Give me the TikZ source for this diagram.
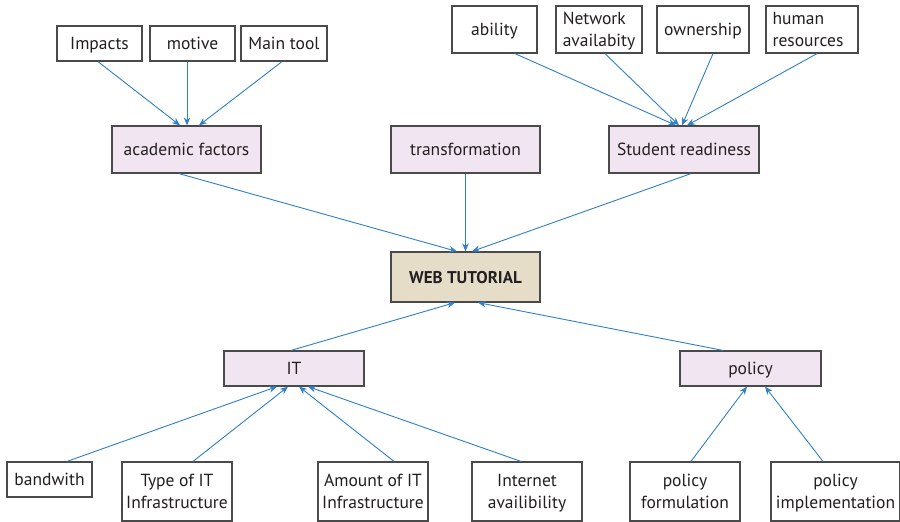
\documentclass[tikz,border=0pt]{standalone}
\usepackage{fontspec}
\setmainfont{PT Sans}
\usetikzlibrary{arrows.meta}
\definecolor{arrowblue}{HTML}{2F80C8}
\definecolor{pinkfill}{HTML}{F1E5F1}
\definecolor{beigefill}{HTML}{E6DDC8}
\definecolor{boxline}{HTML}{4A4A4A}
\definecolor{txt}{HTML}{231F20}
\tikzset{
  box/.style={draw=boxline, line width=1.2pt, fill=white, text=txt, font=\fontsize{17.5}{22}\selectfont, inner sep=0pt, align=center, text depth=0pt},
  midbox/.style={box, fill=pinkfill},
  webbox/.style={box, fill=beigefill, font=\fontsize{17}{22}\selectfont\bfseries},
  arr/.style={draw=arrowblue, line width=0.9pt, -{Stealth[length=8pt,width=6.5pt]}}
}
\begin{document}
\begin{tikzpicture}[x=1pt,y=-1pt]
\useasboundingbox[fill=white] (0,0) rectangle (900,522);
% top row left
\node[box, minimum width=85pt, minimum height=35pt] (imp) at (99.5,43.5) {Impacts};
\node[box, minimum width=85pt, minimum height=35pt] (mot) at (192.5,43.5) {motive};
\node[box, minimum width=86pt, minimum height=35pt] (mt) at (284,43.5) {Main tool};
% top row right
\node[box, minimum width=85pt, minimum height=47pt] (ab) at (494.5,29.5) {ability};
\node[box, minimum width=86pt, minimum height=47pt, align=left] (na) at (599,29.5) {Network\\availabity};
\node[box, minimum width=92pt, minimum height=47pt] (ow) at (703,29.5) {ownership};
\node[box, minimum width=92pt, minimum height=47pt, align=left] (hr) at (812,29.5) {human\\resources\hspace*{8pt}};
% middle row
\node[midbox, minimum width=149pt, minimum height=47pt] (af) at (186.5,149.5) {academic factors};
\node[midbox, minimum width=149pt, minimum height=47pt] (tr) at (465.5,149.5) {transformation};
\node[midbox, minimum width=150pt, minimum height=47pt] (sr) at (684,149.5) {Student readiness};
% center
\node[webbox, minimum width=149pt, minimum height=50pt] (web) at (465.5,277) {WEB TUTORIAL};
% lower middle
\node[midbox, minimum width=140pt, minimum height=35pt] (it) at (294,368.5) {IT};
\node[midbox, minimum width=141pt, minimum height=35pt] (pol) at (750.5,368.5) {policy};
% bottom row
\node[box, minimum width=85pt, minimum height=35pt] (bw) at (49.5,479.5) {bandwith};
\node[box, minimum width=110pt, minimum height=59pt] (ty) at (177,491.5) {Type of IT\\Infrastructure};
\node[box, minimum width=110pt, minimum height=59pt] (am) at (373,491.5) {Amount of IT\\Infrastructure};
\node[box, minimum width=110pt, minimum height=59pt] (in) at (527,491.5) {Internet\\availibility};
\node[box, minimum width=110pt, minimum height=59pt] (pf) at (685,491.5) {policy\\formulation};
\node[box, minimum width=129pt, minimum height=59pt] (pi) at (835.5,491.5) {policy\\implementation};
% arrows to academic factors
\draw[arr] ([xshift=-1.5pt]imp.south) -- ([xshift=-6.5pt]af.north);
\draw[arr] ([xshift=-5.5pt]mot.south) -- ([xshift=0.5pt]af.north);
\draw[arr] ([xshift=-2pt]mt.south) -- ([xshift=12.5pt]af.north);
% arrows to student readiness
\draw[arr] ([xshift=20.5pt]ab.south) -- ([xshift=-8pt]sr.north);
\draw[arr] ([xshift=6pt]na.south) -- ([xshift=-5pt]sr.north);
\draw[arr] ([xshift=10pt]ow.south) -- ([xshift=-2pt]sr.north);
\draw[arr] ([xshift=5pt]hr.south) -- ([xshift=3pt]sr.north);
% arrows to web tutorial
\draw[arr] ([xshift=-7.5pt]af.south) -- ([xshift=-8.5pt]web.north);
\draw[arr] (tr.south) -- (web.north);
\draw[arr] ([xshift=7pt]sr.south) -- ([xshift=6.5pt]web.north);
\draw[arr] ([xshift=-3pt]it.north) -- ([xshift=-10.5pt]web.south);
\draw[arr] ([xshift=-27.5pt]pol.north) -- ([xshift=12.5pt]web.south);
% arrows to IT
\draw[arr] ([xshift=17.5pt]bw.north) -- ([xshift=-17pt]it.south);
\draw[arr] ([xshift=16pt]ty.north) -- ([xshift=-6pt]it.south);
\draw[arr] ([xshift=21pt]am.north) -- ([xshift=5pt]it.south);
\draw[arr] ([xshift=-6pt]in.north) -- ([xshift=14pt]it.south);
% arrows to policy
\draw[arr] ([xshift=6pt]pf.north) -- ([xshift=-3.5pt]pol.south);
\draw[arr] ([xshift=-12.5pt]pi.north) -- ([xshift=14.5pt]pol.south);
\end{tikzpicture}
\end{document}
